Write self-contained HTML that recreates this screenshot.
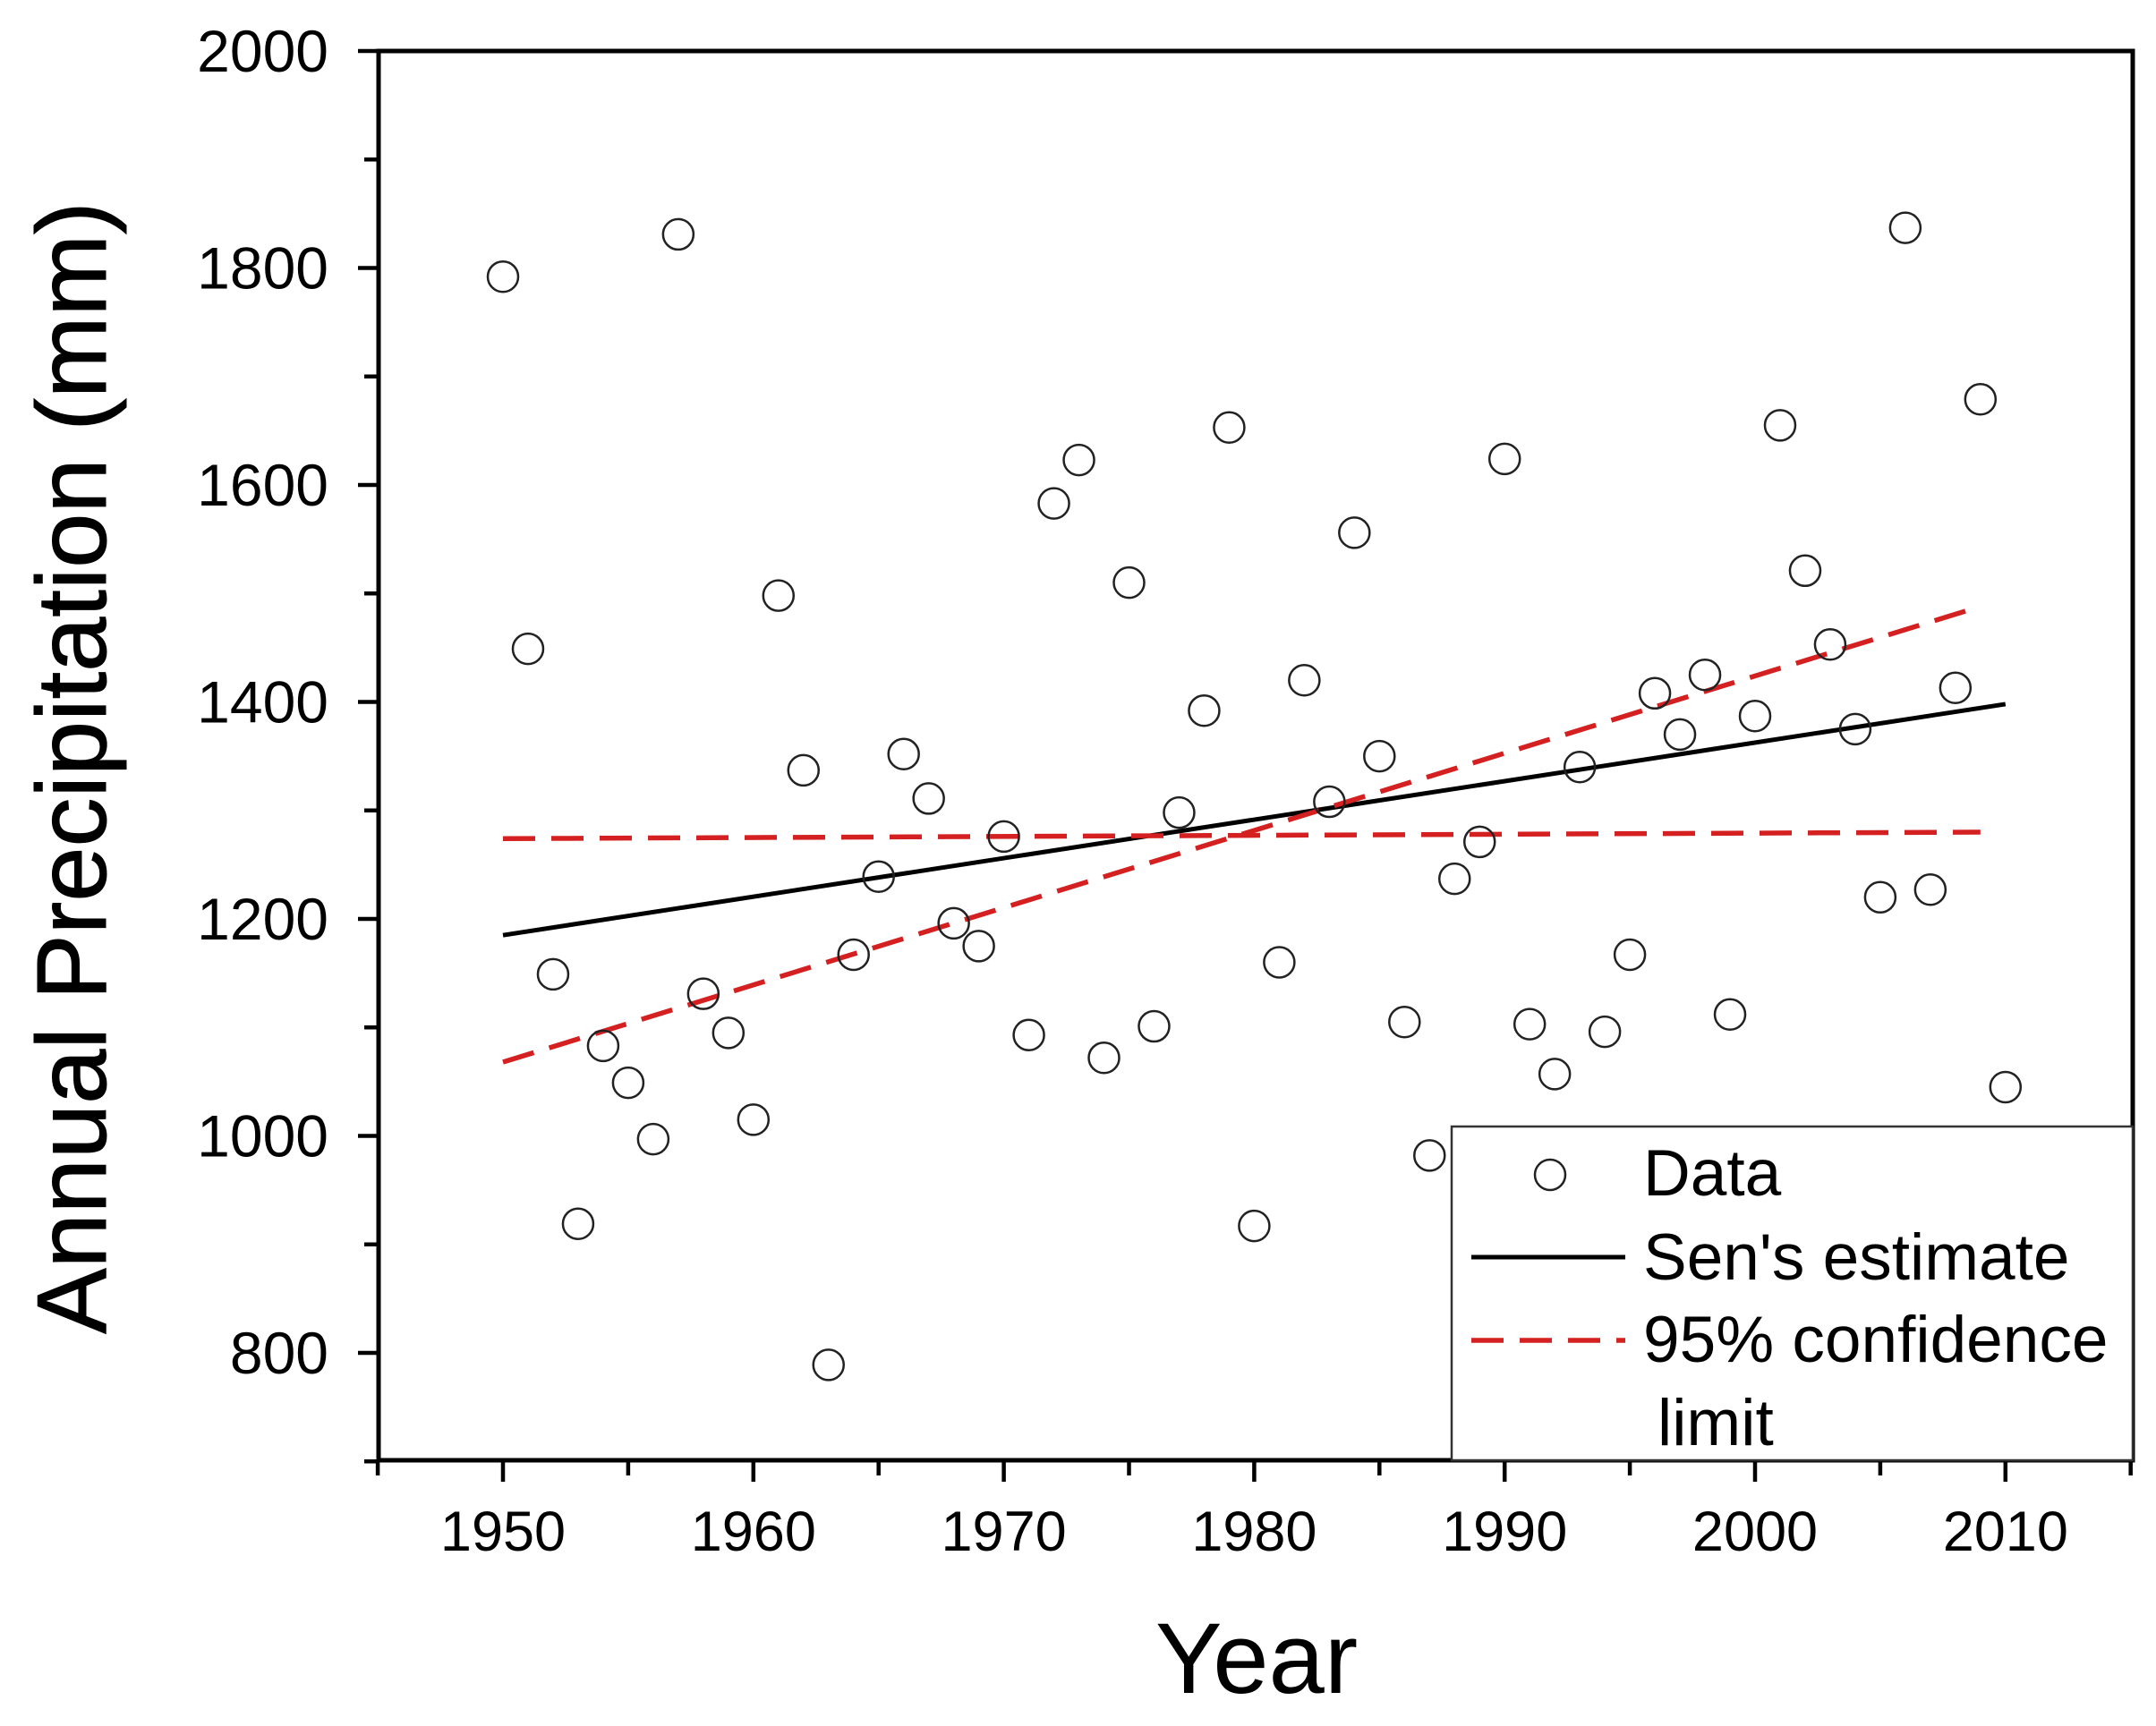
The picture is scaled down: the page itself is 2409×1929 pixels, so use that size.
<!DOCTYPE html>
<html><head><meta charset="utf-8"><style>html,body{margin:0;padding:0;background:#fff}svg{display:block}</style></head>
<body>
<svg id="s" width="2409" height="1929" xmlns="http://www.w3.org/2000/svg" font-family="Liberation Sans, sans-serif"></svg>
<script>
const s=document.getElementById('s');
const X=y=>562+(y-1950)*27.98, Y=v=>57+(2000-v)*1.2125;
let h='';
h+=`<rect x="423" y="57" width="1960" height="1575" fill="none" stroke="#000" stroke-width="5"/>`;
for(let v=700;v<=2000;v+=100){const y=Y(v);const maj=v%200==0;h+=`<line x1="${maj?400:407}" x2="423" y1="${y}" y2="${y}" stroke="#000" stroke-width="4.5"/>`;if(maj&&v>=800)h+=`<text x="367" y="${y+23}" font-size="66" text-anchor="end">${v}</text>`;}
for(let yr=1945;yr<=2015;yr+=5){const x=X(yr);const maj=yr%10==0;h+=`<line x1="${x}" x2="${x}" y1="1632" y2="${maj?1656:1649}" stroke="#000" stroke-width="4.5"/>`;if(maj)h+=`<text x="${x}" y="1733" font-size="63" text-anchor="middle">${yr}</text>`;}
h+=`<text x="1404" y="1892" font-size="112" text-anchor="middle">Year</text>`;
h+=`<text transform="translate(118,858) rotate(-90)" font-size="110" text-anchor="middle" stroke="#000" stroke-width="1">Annual Precipitation (mm)</text>`;
h+=`<line x1="${X(1950)}" y1="${Y(1185)}" x2="${X(2010)}" y2="${Y(1398)}" stroke="#000" stroke-width="5"/>`;
h+=`<line x1="${X(1950)}" y1="${Y(1068)}" x2="${X(2009)}" y2="${Y(1488)}" stroke="#d42020" stroke-width="5.5" stroke-dasharray="36,18"/>`;
h+=`<line x1="${X(1950)}" y1="${Y(1274)}" x2="${X(2009)}" y2="${Y(1280)}" stroke="#d42020" stroke-width="5.5" stroke-dasharray="36,18"/>`;
const d=[1792,1449,1149,919,1083,1049,997,1831,1131,1095,1015,1498,1337,789,1167,1239,1352,1311,1196,1175,1276,1093,1583,1623,1072,1510,1101,1298,1392,1653,917,1160,1420,1308,1556,1350,1105,982,1237,1271,1624,1103,1057,1340,1096,1167,1408,1370,1425,1112,1387,1655,1521,1453,1375,1220,1837,1227,1413,1679,1045];
d.forEach((v,i)=>{h+=`<circle cx="${X(1950+i)}" cy="${Y(v)}" r="17" fill="none" stroke="#222" stroke-width="2.5"/>`;});
h+=`<rect x="1622" y="1259" width="761" height="373" fill="#fff" stroke="#333" stroke-width="2.5"/>`;
h+=`<circle cx="1732" cy="1313" r="17" fill="none" stroke="#222" stroke-width="2.5"/>`;
h+=`<line x1="1644" x2="1816" y1="1405" y2="1405" stroke="#000" stroke-width="5"/>`;
h+=`<line x1="1644" x2="1816" y1="1498" y2="1498" stroke="#d42020" stroke-width="5.5" stroke-dasharray="36,18"/>`;
h+=`<text x="1836" y="1336" font-size="73">Data</text><text x="1836" y="1430" font-size="73">Sen's estimate</text><text x="1836" y="1522" font-size="73">95% confidence</text><text x="1852" y="1615" font-size="73">limit</text>`;
s.innerHTML=h;
</script>
</body></html>
